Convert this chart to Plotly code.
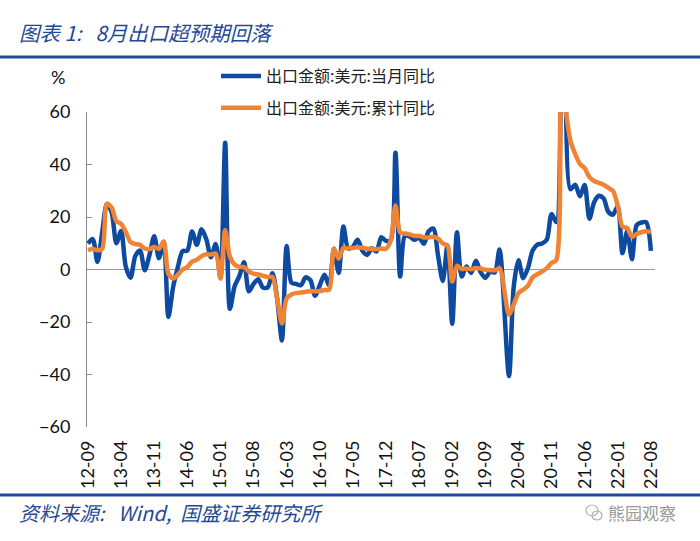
import pandas as pd
import plotly.graph_objects as go

# ---- data ----
months = list(pd.period_range("2012-09", "2022-08", freq="M").strftime("%y-%m"))

# 出口金额:美元:当月同比 (%)
monthly_yoy = [
    9.9, 11.6, 2.9, 14.1,                                              # 2012-09..12
    25.0, 21.8, 10.0, 14.7, 1.0, -3.1, 5.1, 7.2, -0.3, 5.6, 12.7, 4.3,  # 2013
    10.6, -18.1, -6.6, 0.9, 7.0, 7.2, 14.5, 9.4, 15.3, 11.6, 4.7, 9.7,  # 2014
    -3.3, 48.3, -15.0, -6.4, -2.5, 2.8, -8.3, -5.5, -3.7, -6.9, -6.8, -1.4,  # 2015
    -11.2, -27.0, 9.0, -5.0, -5.5, -6.0, -3.0, -4.0, -10.0, -6.0, -2.0, -6.1,  # 2016
    7.9, -1.3, 16.4, 8.0, 8.7, 11.3, 7.2, 5.5, 8.1, 6.9, 12.3, 10.9,    # 2017
    11.1, 44.5, -2.7, 12.9, 12.6, 11.3, 12.2, 9.8, 14.5, 15.6, 5.4, -4.4,  # 2018
    9.1, -20.7, 14.2, -2.7, 1.1, -1.3, 3.3, -1.0, -3.2, -0.9, -1.1, 7.6,  # 2019
    None, -40.6, -6.6, 3.5, -3.3, 0.5, 7.2, 9.5, 9.9, 11.4, 21.1, 18.1,  # 2020
    75.0, 154.9, 30.6, 32.3, 27.9, 32.2, 19.3, 25.6, 28.1, 27.1, 22.0, 20.9,  # 2021
    24.1, 6.2, 14.7, 3.9, 16.9, 17.9, 18.0, 7.1,                       # 2022-01..08
]

# 出口金额:美元:累计同比 (%)
cumulative_yoy = [
    7.4, 7.8, 7.3, 7.9,
    25.0, 23.6, 18.4, 17.4, 14.3, 10.4, 9.7, 9.4, 8.0, 7.8, 8.6, 7.9,
    10.6, -1.6, -3.4, -2.0, 0.0, 0.9, 3.0, 3.7, 5.1, 5.8, 5.7, 6.1,
    -3.3, 15.0, 4.9, 1.9, 1.0, 0.9, -0.8, -1.6, -1.9, -2.4, -2.9, -2.9,
    -11.2, -20.6, -11.0, -9.5, -9.0, -8.8, -8.5, -8.3, -8.3, -8.2, -7.8, -7.7,
    7.9, 4.2, 8.2, 8.0, 8.2, 8.5, 8.3, 7.9, 7.9, 7.7, 8.0, 7.9,
    11.1, 24.4, 14.1, 13.7, 13.4, 12.8, 12.8, 12.2, 12.2, 12.5, 11.8, 9.9,
    9.1, -4.6, 1.4, 0.2, 0.4, 0.1, 0.6, 0.4, -0.1, -0.2, -0.3, 0.5,
    None, -17.2, -13.4, -9.0, -7.7, -6.2, -3.0, -1.8, -0.8, 0.5, 2.5, 3.6,
    75.0, 60.6, 49.0, 44.0, 40.2, 38.6, 35.2, 33.7, 33.0, 32.3, 31.1, 29.9,
    24.1, 16.3, 15.8, 12.5, 13.5, 14.2, 14.6, 14.2,
]

series_names = ["出口金额:美元:当月同比", "出口金额:美元:累计同比"]
tick_labels = months[::7]
y_ticks = [-60, -40, -20, 0, 20, 40, 60]

title_text = "图表 1:\u00a0\u00a0\u00a08月出口超预期回落"
source_text = "资料来源:\u00a0\u00a0\u00a0Wind,\u00a0\u00a0国盛证券研究所"
watermark_text = "熊园观察"

# ---- layout geometry (pixels) ----
W, H = 700, 541
L, R, T, B = 87, 45, 112, 114
PW, PH = W - L - R, H - T - B


def px(x):
    return (x - L) / PW


def py(y):
    return (H - B - y) / PH


BLUE = "#0D4AA0"
ORANGE = "#F08434"
DARKBLUE = "#1F4A96"
NUM_FONT = "Lato, 'Liberation Sans', Arial, sans-serif"
CJK_FONT = "'Noto Sans CJK SC', 'Noto Sans', sans-serif"

fig = go.Figure()
fig.add_trace(go.Scatter(
    x=months, y=monthly_yoy, name=series_names[0], mode="lines",
    line=dict(color=BLUE, width=4.5, shape="spline", smoothing=0.8),
    connectgaps=True, legendgroup="a",
))
fig.add_trace(go.Scatter(
    x=months, y=cumulative_yoy, name=series_names[1], mode="lines",
    line=dict(color=ORANGE, width=4.5, shape="spline", smoothing=0.8),
    connectgaps=True, legendgroup="b",
))

fig.update_layout(
    width=W, height=H,
    margin=dict(l=L, r=R, t=T, b=B, autoexpand=False),
    paper_bgcolor="white", plot_bgcolor="white",
    showlegend=True,
    legend=dict(
        x=px(216), y=py(59), xanchor="left", yanchor="top",
        font=dict(family=CJK_FONT, size=16, color="#222"),
        bgcolor="rgba(0,0,0,0)", tracegroupgap=8, traceorder="grouped",
        itemwidth=40,
    ),
    xaxis=dict(
        type="category", range=[-0.21, 119.87],
        tickmode="array", tickvals=tick_labels, ticktext=tick_labels,
        tickangle=-90, showline=False, showgrid=False, zeroline=False,
        ticks="", tickfont=dict(family=NUM_FONT, size=18, color="#111"),
        ticklabelstandoff=9,
    ),
    yaxis=dict(
        range=[-60, 60], tickmode="array", tickvals=y_ticks,
        showgrid=False, showline=True, linecolor="#8c8c8c", linewidth=1,
        ticks="inside", ticklen=5, tickcolor="#8c8c8c",
        zeroline=True, zerolinecolor="#9a9a9a", zerolinewidth=1.2,
        tickfont=dict(family=NUM_FONT, size=18, color="#111"),
        ticklabelstandoff=12,
    ),
    shapes=[
        dict(type="line", xref="paper", yref="paper", x0=px(0), x1=px(700),
             y0=py(57), y1=py(57), line=dict(color=DARKBLUE, width=3)),
        dict(type="line", xref="paper", yref="paper", x0=px(0), x1=px(700),
             y0=py(495), y1=py(495), line=dict(color=DARKBLUE, width=3)),
        dict(type="circle", xref="paper", yref="paper",
             x0=px(586), x1=px(598), y0=py(516), y1=py(505),
             line=dict(color="#b0b0b0", width=1.2)),
        dict(type="circle", xref="paper", yref="paper",
             x0=px(592), x1=px(602), y0=py(520), y1=py(511),
             line=dict(color="#b0b0b0", width=1.2)),
    ],
    annotations=[
        dict(text=title_text, xref="paper", yref="paper", x=px(17), y=py(32),
             xanchor="left", yanchor="middle", showarrow=False,
             font=dict(family=CJK_FONT, size=20.5, color=DARKBLUE, style="italic")),
        dict(text="%", xref="paper", yref="paper", x=px(58), y=py(77),
             xanchor="center", yanchor="middle", showarrow=False,
             font=dict(family=NUM_FONT, size=18, color="#111")),
        dict(text=source_text, xref="paper", yref="paper", x=px(17), y=py(512),
             xanchor="left", yanchor="middle", showarrow=False,
             font=dict(family=CJK_FONT, size=20, color=DARKBLUE, style="italic")),
        dict(text=watermark_text, xref="paper", yref="paper", x=px(606), y=py(512),
             xanchor="left", yanchor="middle", showarrow=False,
             font=dict(family=CJK_FONT, size=17, color="#9a9a9a")),
    ],
)

fig.write_html(
    "out.html",
    config={"displayModeBar": False},
    post_script="document.body.style.margin='0';",
)
